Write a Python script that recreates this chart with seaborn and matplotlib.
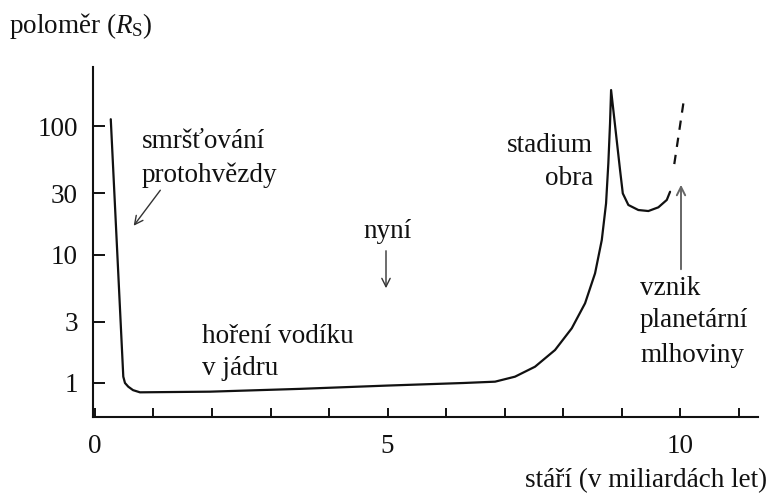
import matplotlib
matplotlib.use("Agg")
import matplotlib.pyplot as plt
import seaborn as sns
import pandas as pd
from matplotlib.ticker import FixedLocator, NullFormatter, FixedFormatter, NullLocator

# Stellar radius evolution of a Sun-like star (age in Gyr, radius in solar radii)
age = [0.27, 0.484, 0.513, 0.569, 0.65, 0.769, 1.966, 3.5, 5.0, 6.3, 6.838, 7.179,
       7.521, 7.863, 8.149, 8.376, 8.547, 8.662, 8.735, 8.774, 8.803, 8.821,
       8.974, 9.021, 9.116, 9.287, 9.458, 9.629, 9.773, 9.829]
radius = [113, 1.12, 1.0, 0.936, 0.88, 0.846, 0.856, 0.9, 0.955, 1.0, 1.024, 1.12,
          1.339, 1.806, 2.666, 4.17, 7.14, 12.97, 25.0, 51.3, 105, 190.6,
          45.5, 29.9, 24.3, 22.2, 21.8, 23.3, 26.6, 30.8]

# Uncertain final expansion (dashed), drawn from the top down
age_dash = [10.056, 9.886]
radius_dash = [150, 45.5]

x_major = [0, 5, 10]
x_labels = ["0", "5", "10"]
x_minor = [1, 2, 3, 4, 6, 7, 8, 9, 11]
y_ticks = [1, 3, 10, 30, 100]
y_labels = ["1", "3", "10", "30", "100"]

sns.set_theme(style="ticks")
plt.rcParams["font.family"] = ["Liberation Serif", "DejaVu Serif"]
plt.rcParams["mathtext.fontset"] = "custom"
plt.rcParams["mathtext.rm"] = "Liberation Serif"
plt.rcParams["mathtext.it"] = "Liberation Serif:italic"
FS = 19.5
ink = "#111111"

fig = plt.figure(figsize=(7.71, 4.99), dpi=100)
ax = fig.add_axes([0.1206, 0.1643, 0.983 - 0.1206, 0.8657 - 0.1643])

main = pd.DataFrame({"age": age, "radius": radius})
dash = pd.DataFrame({"age": age_dash, "radius": radius_dash})
sns.lineplot(data=main, x="age", y="radius", ax=ax, color=ink, lw=1.6,
             estimator=None, sort=False, solid_joinstyle="round",
             solid_capstyle="round")
dash_ax = sns.lineplot(data=dash, x="age", y="radius", ax=ax, color=ink, lw=1.6,
                       estimator=None, sort=False)
dash_ax.lines[-1].set_dashes([4.2, 3.6])

ax.set_yscale("log")
ax.set_xlim(-0.034, 11.33)
ax.set_ylim(0.5435, 288)

ax.xaxis.set_major_locator(FixedLocator(x_major))
ax.xaxis.set_major_formatter(FixedFormatter(x_labels))
ax.xaxis.set_minor_locator(FixedLocator(x_minor))
ax.xaxis.set_minor_formatter(NullFormatter())
ax.yaxis.set_major_locator(FixedLocator(y_ticks))
ax.yaxis.set_major_formatter(FixedFormatter(y_labels))
ax.yaxis.set_minor_locator(NullLocator())

ax.tick_params(axis="x", which="both", direction="in", length=6.5, width=1.4,
               color=ink, labelsize=FS, labelcolor=ink, pad=12)
ax.tick_params(axis="y", which="major", direction="in", length=8.6, width=1.4,
               color=ink, labelsize=FS, labelcolor=ink, pad=11)

for s in ["top", "right"]:
    ax.spines[s].set_visible(False)
for s in ["left", "bottom"]:
    ax.spines[s].set_linewidth(1.5)
    ax.spines[s].set_color(ink)

ax.set_xlabel("")
ax.set_ylabel("")

# Axis titles
fig.text(9 / 771, 1 - 33 / 499, r"poloměr ($R_{\mathrm{S}}$)", fontsize=FS,
         color=ink, ha="left", va="baseline")
fig.text(767 / 771, 1 - 487 / 499, "stáří (v miliardách let)", fontsize=FS,
         color=ink, ha="right", va="baseline")

# Annotations
def ftxt(x, y, s, ha="left"):
    fig.text(x / 771, 1 - y / 499, s, fontsize=FS, color=ink, ha=ha,
             va="baseline")

def farrow(x0, y0, x1, y1, color="#333333", lw=1.0):
    fig.add_artist(matplotlib.patches.FancyArrowPatch(
        (x0 / 771, 1 - y0 / 499), (x1 / 771, 1 - y1 / 499),
        transform=fig.transFigure, arrowstyle="->,head_length=6,head_width=3",
        color=color, lw=lw, mutation_scale=1))

ftxt(142, 148, "smršťování")
ftxt(142, 182, "protohvězdy")
farrow(162, 188, 132, 228)

ftxt(387, 238, "nyní", ha="center")
farrow(386, 248, 386, 291)

ftxt(202, 343, "hoření vodíku")
ftxt(202, 375, "v jádru")

ftxt(593, 152, "stadium", ha="right")
ftxt(593, 185, "obra", ha="right")

ftxt(640, 295, "vznik")
ftxt(640, 327, "planetární")
ftxt(640, 362, "mlhoviny")
farrow(681, 272, 681, 182, color="#666666", lw=1.4)

fig.savefig("out.png", dpi=100)
